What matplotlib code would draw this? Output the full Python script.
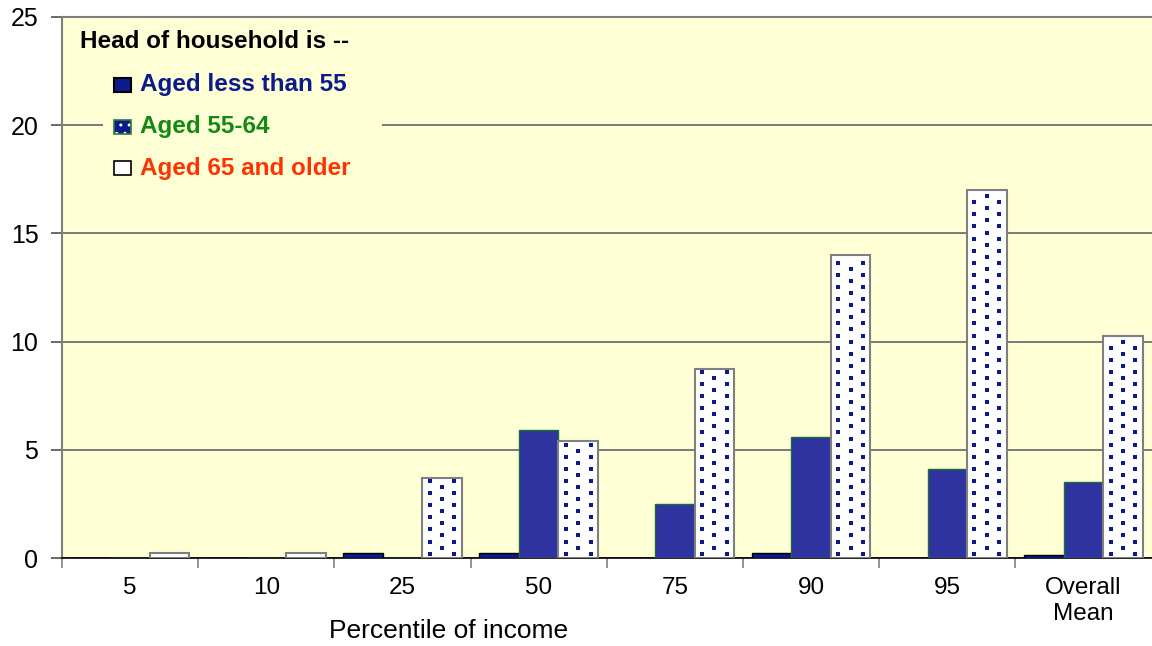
import numpy as np
import matplotlib.pyplot as plt
from matplotlib.patches import Rectangle

# values
categories = ['5', '10', '25', '50', '75', '90', '95', 'Overall\nMean']
under_55 = [0, 0, 0.25, 0.25, 0, 0.25, 0, 0.15]
aged_55_64 = [0, 0, 0, 5.9, 2.5, 5.6, 4.1, 3.5]
aged_65_up = [0.25, 0.25, 3.7, 5.4, 8.75, 14.0, 17.0, 10.25]
series_names = ['Aged less than 55', 'Aged 55-64', 'Aged 65 and older']
legend_title = 'Head of household is --'

plt.rcParams['font.family'] = ['Liberation Sans', 'DejaVu Sans']

W, H = 1152, 646
bg = '#FFFFD6'
navy = '#0C1A8C'
mid_blue = '#2E33A0'
green = '#138A13'
label_colors = [navy, green, '#FF3300']

fig = plt.figure(figsize=(W / 100, H / 100), dpi=100)
ax = fig.add_axes([62 / W, 1 - 558 / H, 1095 / W, 541 / H])
ax.set_facecolor(bg)

x = np.arange(len(categories))
w = 0.29

ax.bar(x - w, under_55, w, color=navy, edgecolor='black', linewidth=1, zorder=3)
ax.bar(x, aged_55_64, w, color=mid_blue, edgecolor='#1E6B3A', linewidth=1, zorder=3)
ax.bar(x + w, aged_65_up, w, color='white', edgecolor='#7F7F7F', linewidth=1.5, zorder=3)

# dotted fill of the white bars: 3 columns, middle one shifted half a step
step = 0.56
dx, dy = [], []
for xc, h in zip(x + w, aged_65_up):
    for k, off in zip((-1, 0, 1), (0.0, step / 2, 0.0)):
        ys = np.arange(0.2 + off, h - 0.1, step)
        dx += [xc + k * w / 3.2] * len(ys)
        dy += list(ys)
ax.scatter(dx, dy, s=6, marker='s', color=navy, linewidths=0, zorder=4)

ax.set_ylim(0, 25)
ax.set_xlim(-0.5, len(categories) - 0.5 + 0.04)
ax.set_yticks([0, 5, 10, 15, 20, 25])
ax.yaxis.grid(True, color='#707070', linewidth=1.3)
ax.set_axisbelow(True)

ax.set_xticks(x)
ax.set_xticklabels(categories, fontsize=17.5, linespacing=1.2)
ax.set_xticks(np.arange(len(categories)) - 0.5, minor=True)
ax.tick_params(axis='x', which='major', length=0, pad=14)
ax.tick_params(axis='x', which='minor', length=7, color='#808080', width=1.2)
ax.tick_params(axis='y', labelsize=18, length=8, width=1.2, color='#505050', pad=9)
ax.set_xlabel('Percentile of income', fontsize=19)
ax.xaxis.set_label_coords((449 - 62) / 1095, (558 - 619) / 541)

for s in ['left', 'top', 'right']:
    ax.spines[s].set_color('#7F7F7F')
    ax.spines[s].set_linewidth(1.5)
ax.spines['bottom'].set_color('black')
ax.spines['bottom'].set_linewidth(1.2)


# legend drawn by hand (Excel style: title flush left, entries indented)
def fx(px):
    return px / W


def fy(py):
    return 1 - py / H


fig.patches.append(Rectangle((fx(103), fy(190)), fx(382 - 103), (190 - 60) / H,
                             transform=fig.transFigure, facecolor=bg,
                             edgecolor='none', zorder=2))
fig.text(fx(80), fy(42), legend_title, fontsize=17.5, fontweight='bold',
         color='black', va='center', ha='left')

rows = [85, 127, 168]
for i, (name, col, yc) in enumerate(zip(series_names, label_colors, rows)):
    box = (fx(114), fy(yc + 7))
    bw, bh = fx(17), 14 / H
    if i == 0:
        fig.patches.append(Rectangle(box, bw, bh, transform=fig.transFigure,
                                     facecolor=navy, edgecolor='black', lw=1.5, zorder=3))
    elif i == 1:
        fig.patches.append(Rectangle(box, bw, bh, transform=fig.transFigure,
                                     facecolor=navy, edgecolor='white', hatch='..',
                                     lw=0, zorder=3))
        fig.patches.append(Rectangle(box, bw, bh, transform=fig.transFigure,
                                     fill=False, edgecolor='#2E7D3A', lw=1.2, zorder=4))
    else:
        fig.patches.append(Rectangle(box, bw, bh, transform=fig.transFigure,
                                     facecolor='white', edgecolor='black', lw=1.2, zorder=3))
        ax.scatter([fx(118), fx(120), fx(130), fx(131)],
                   [fy(yc - 4), fy(yc + 3), fy(yc + 1), fy(yc + 9)],
                   transform=fig.transFigure, s=4, marker='s', color=green,
                   linewidths=0, zorder=5, clip_on=False)
    fig.text(fx(140), fy(yc), name, fontsize=17.5, fontweight='bold',
             color=col, va='center', ha='left')

fig.savefig('out.png', dpi=100)
